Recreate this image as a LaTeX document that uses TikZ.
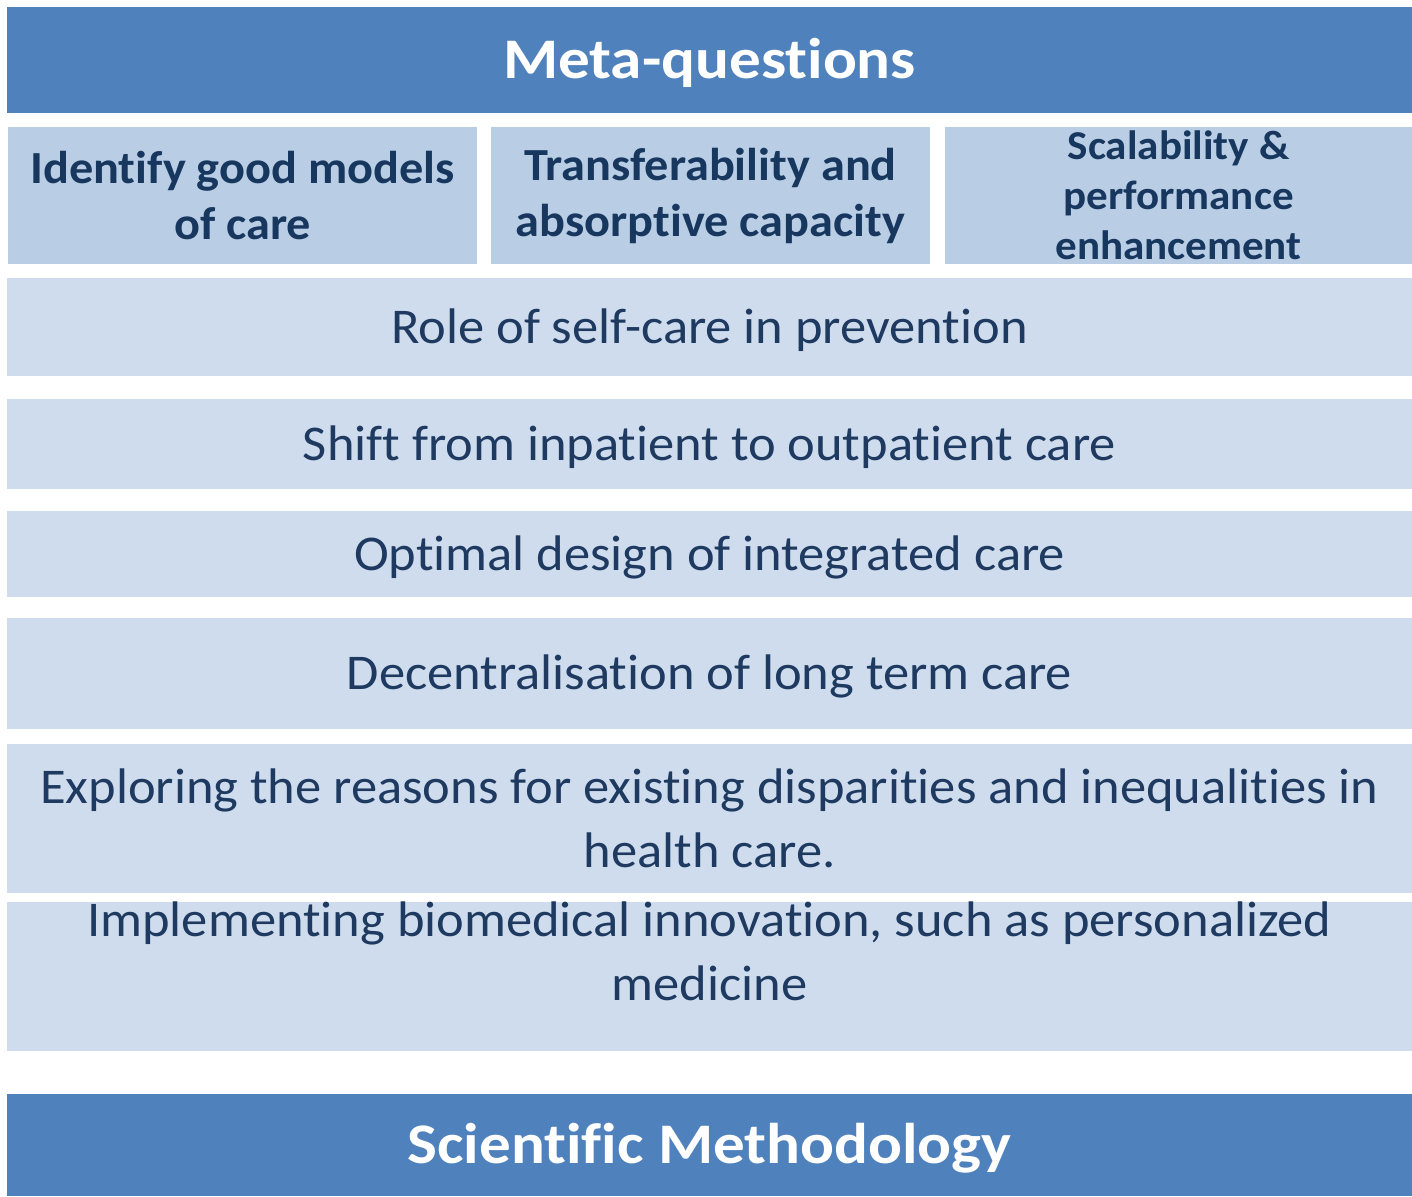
\documentclass[tikz,border=0pt]{standalone}
\usepackage{fontspec}
\setmainfont[FakeStretch = 1.05, Ligatures = CommonOff]{Carlito}
\newfontfamily\headfont[FakeStretch = 1.1, Ligatures = CommonOff]{Carlito}

\definecolor{barblue}{HTML}{4F81BD}
\definecolor{boxblue}{HTML}{B9CDE5}
\definecolor{rowblue}{HTML}{CFDCED}
\definecolor{inkblue}{HTML}{1F3A60}
\definecolor{boldblue}{HTML}{17375E}

\tikzset{
	bar/.style = {fill = barblue, text = white, inner sep = 0pt, text height = 18.5pt, text depth = 0pt, font = \fontsize{28.7}{34}\headfont\bfseries},
	topic/.style = {fill = boxblue, text = boldblue, inner sep = 0pt, align = center, font = \fontsize{23}{28}\selectfont\bfseries},
	row/.style = {fill = rowblue, text = inkblue, inner sep = 0pt, align = center, font = \fontsize{25}{32}\selectfont},
	oneline/.style = {text height = 16.1pt, text depth = 0pt}
}

\begin{document}
\begin{tikzpicture}[x = 0.5pt, y = -0.5pt]
	
		\useasboundingbox (0, 0) rectangle (1412, 1196);
		
		% header and footer
		\node[bar, minimum width = 1405 * 0.5pt, minimum height = 106 * 0.5pt] (meta) at (709.5, 60) {Meta-questions};
		\node[bar, minimum width = 1405 * 0.5pt, minimum height = 102 * 0.5pt] (method) at (709.5, 1145) {Scientific Methodology};
		
		% three topics
		\node[topic, minimum width = 469 * 0.5pt, minimum height = 137 * 0.5pt] (models) at (242.5, 195.5) {Identify good models\\of care};
		\node[topic, minimum width = 439 * 0.5pt, minimum height = 137 * 0.5pt] (transfer) at (710.5, 195.5) {Transferability and\\absorptive capacity};
		\node[topic, minimum width = 467 * 0.5pt, minimum height = 137 * 0.5pt, font = \fontsize{20.5}{25}\selectfont\bfseries] (scale) at (1178.5, 195.5) {Scalability \&\\performance\\enhancement};
		
		% rows
		\node[row, oneline, minimum width = 1405 * 0.5pt, minimum height = 98 * 0.5pt] (selfcare) at (709.5, 327) {Role of self-care in prevention};
		\node[row, oneline, minimum width = 1405 * 0.5pt, minimum height = 90 * 0.5pt] (shift) at (709.5, 444) {Shift from inpatient to outpatient care};
		\node[row, oneline, minimum width = 1405 * 0.5pt, minimum height = 86 * 0.5pt] (integrated) at (709.5, 554) {Optimal design of integrated care};
		\node[row, oneline, minimum width = 1405 * 0.5pt, minimum height = 111 * 0.5pt] (longterm) at (709.5, 673.5) {Decentralisation of long term care};
		\node[row, minimum width = 1405 * 0.5pt, minimum height = 149 * 0.5pt] (disparity) at (709.5, 818.5) {Exploring the reasons for existing disparities and inequalities in\\health care.};
		\node[row, minimum width = 1405 * 0.5pt, minimum height = 149 * 0.5pt] (biomed) at (709.5, 976.5) {};
		\node[row, fill = none, anchor = north] (biomedtext) at (biomed.north) {Implementing biomedical innovation, such as personalized\\medicine};
		
	\end{tikzpicture}
\end{document}
